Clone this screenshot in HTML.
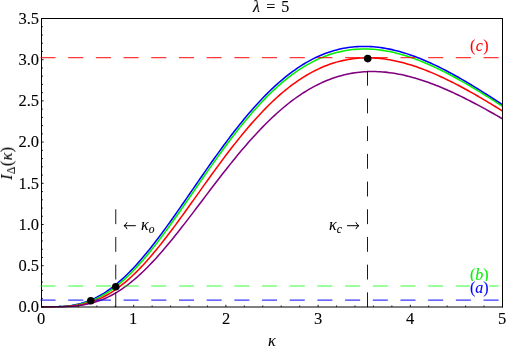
<!DOCTYPE html>
<html><head><meta charset="utf-8"><title>plot</title>
<style>
html,body{margin:0;padding:0;background:#fff;}
body{width:506px;height:346px;position:relative;overflow:hidden;font-family:"Liberation Serif",serif;color:#000;}
svg{position:absolute;left:0;top:0;}
.t{position:absolute;white-space:nowrap;font-size:16px;line-height:16px;will-change:transform;-webkit-text-stroke:0.1px currentColor;}
.yt{text-align:right;width:40px;font-size:16.5px;}
.xt{width:20px;text-align:center;font-size:16.5px;}
i{font-style:italic;}
.s{font-size:11.5px;position:relative;top:3px;}
</style></head><body>
<svg width="506" height="346" viewBox="0 0 506 346">
<defs><clipPath id="cp"><rect x="41.00" y="18.50" width="462.00" height="289.00"/></clipPath></defs>
<g clip-path="url(#cp)">
<path d="M41.50,306.90L43.80,306.90L46.11,306.90L48.41,306.89L50.72,306.87L53.02,306.84L55.33,306.79L57.64,306.71L59.94,306.60L62.25,306.45L64.55,306.27L66.86,306.04L69.16,305.76L71.47,305.43L73.77,305.03L76.08,304.58L78.38,304.06L80.69,303.47L82.99,302.81L85.30,302.07L87.60,301.26L89.91,300.37L92.21,299.40L94.52,298.34L96.82,297.21L99.12,295.98L101.43,294.68L103.74,293.29L106.04,291.81L108.35,290.25L110.65,288.60L112.95,286.87L115.26,285.06L117.57,283.16L119.87,281.18L122.17,279.13L124.48,276.99L126.79,274.78L129.09,272.49L131.40,270.13L133.70,267.70L136.00,265.20L138.31,262.64L140.62,260.01L142.92,257.32L145.23,254.57L147.53,251.76L149.84,248.90L152.14,245.99L154.44,243.03L156.75,240.02L159.06,236.98L161.36,233.89L163.67,230.76L165.97,227.60L168.28,224.41L170.58,221.20L172.89,217.95L175.19,214.68L177.50,211.40L179.80,208.09L182.11,204.78L184.41,201.45L186.72,198.11L189.02,194.76L191.33,191.42L193.63,188.07L195.94,184.72L198.24,181.38L200.55,178.04L202.85,174.72L205.16,171.40L207.46,168.10L209.77,164.81L212.07,161.55L214.38,158.30L216.68,155.08L218.99,151.88L221.29,148.71L223.60,145.56L225.90,142.45L228.20,139.37L230.51,136.32L232.82,133.31L235.12,130.34L237.43,127.40L239.73,124.50L242.04,121.65L244.34,118.84L246.65,116.07L248.95,113.35L251.25,110.67L253.56,108.04L255.87,105.46L258.17,102.93L260.48,100.46L262.78,98.03L265.09,95.65L267.39,93.33L269.70,91.06L272.00,88.84L274.31,86.68L276.61,84.58L278.92,82.53L281.22,80.54L283.52,78.60L285.83,76.72L288.13,74.90L290.44,73.13L292.75,71.43L295.05,69.78L297.36,68.18L299.66,66.65L301.97,65.18L304.27,63.76L306.57,62.40L308.88,61.10L311.19,59.85L313.49,58.66L315.80,57.53L318.10,56.46L320.41,55.45L322.71,54.49L325.02,53.58L327.32,52.74L329.62,51.95L331.93,51.21L334.24,50.53L336.54,49.90L338.85,49.33L341.15,48.81L343.46,48.34L345.76,47.92L348.06,47.56L350.37,47.25L352.68,46.98L354.98,46.77L357.29,46.61L359.59,46.49L361.90,46.43L364.20,46.41L366.51,46.44L368.81,46.51L371.12,46.63L373.42,46.79L375.73,47.00L378.03,47.25L380.34,47.55L382.64,47.88L384.94,48.26L387.25,48.68L389.56,49.13L391.86,49.63L394.17,50.16L396.47,50.73L398.78,51.34L401.08,51.98L403.39,52.66L405.69,53.37L408.00,54.12L410.30,54.90L412.61,55.71L414.91,56.55L417.22,57.43L419.52,58.33L421.82,59.26L424.13,60.22L426.44,61.21L428.74,62.22L431.05,63.26L433.35,64.33L435.66,65.42L437.96,66.54L440.27,67.68L442.57,68.84L444.88,70.02L447.18,71.22L449.49,72.45L451.79,73.69L454.10,74.95L456.40,76.24L458.71,77.53L461.01,78.85L463.32,80.18L465.62,81.53L467.93,82.90L470.23,84.28L472.54,85.67L474.84,87.07L477.15,88.49L479.45,89.92L481.76,91.37L484.06,92.82L486.37,94.28L488.67,95.76L490.98,97.24L493.28,98.73L495.59,100.23L497.89,101.74L500.20,103.26L502.50,104.78" fill="none" stroke="#0000ff" stroke-width="1.55" stroke-linejoin="round"/>
<path d="M41.50,306.90L43.80,306.90L46.11,306.90L48.41,306.89L50.72,306.88L53.02,306.86L55.33,306.82L57.64,306.77L59.94,306.69L62.25,306.58L64.55,306.43L66.86,306.25L69.16,306.02L71.47,305.74L73.77,305.41L76.08,305.03L78.38,304.58L80.69,304.07L82.99,303.49L85.30,302.84L87.60,302.11L89.91,301.31L92.21,300.43L94.52,299.47L96.82,298.43L99.12,297.30L101.43,296.09L103.74,294.79L106.04,293.41L108.35,291.95L110.65,290.39L112.95,288.75L115.26,287.03L117.57,285.22L119.87,283.33L122.17,281.36L124.48,279.31L126.79,277.17L129.09,274.96L131.40,272.68L133.70,270.32L136.00,267.88L138.31,265.38L140.62,262.81L142.92,260.18L145.23,257.48L147.53,254.73L149.84,251.91L152.14,249.05L154.44,246.13L156.75,243.16L159.06,240.15L161.36,237.09L163.67,234.00L165.97,230.86L168.28,227.69L170.58,224.50L172.89,221.27L175.19,218.02L177.50,214.74L179.80,211.45L182.11,208.14L184.41,204.81L186.72,201.48L189.02,198.14L191.33,194.79L193.63,191.44L195.94,188.09L198.24,184.74L200.55,181.40L202.85,178.06L205.16,174.74L207.46,171.43L209.77,168.13L212.07,164.85L214.38,161.59L216.68,158.36L218.99,155.14L221.29,151.96L223.60,148.80L225.90,145.67L228.20,142.57L230.51,139.51L232.82,136.48L235.12,133.49L237.43,130.54L239.73,127.62L242.04,124.75L244.34,121.92L246.65,119.14L248.95,116.40L251.25,113.71L253.56,111.06L255.87,108.47L258.17,105.92L260.48,103.43L262.78,100.98L265.09,98.59L267.39,96.26L269.70,93.97L272.00,91.74L274.31,89.57L276.61,87.45L278.92,85.39L281.22,83.38L283.52,81.43L285.83,79.54L288.13,77.71L290.44,75.93L292.75,74.22L295.05,72.56L297.36,70.95L299.66,69.41L301.97,67.93L304.27,66.50L306.57,65.13L308.88,63.82L311.19,62.57L313.49,61.37L315.80,60.24L318.10,59.16L320.41,58.13L322.71,57.17L325.02,56.26L327.32,55.40L329.62,54.60L331.93,53.86L334.24,53.17L336.54,52.54L338.85,51.96L341.15,51.43L343.46,50.96L345.76,50.53L348.06,50.16L350.37,49.84L352.68,49.58L354.98,49.36L357.29,49.19L359.59,49.07L361.90,48.99L364.20,48.97L366.51,48.99L368.81,49.05L371.12,49.16L373.42,49.32L375.73,49.52L378.03,49.76L380.34,50.05L382.64,50.37L384.94,50.74L387.25,51.15L389.56,51.59L391.86,52.08L394.17,52.60L396.47,53.16L398.78,53.76L401.08,54.39L403.39,55.05L405.69,55.75L408.00,56.49L410.30,57.25L412.61,58.05L414.91,58.88L417.22,59.74L419.52,60.63L421.82,61.54L424.13,62.49L426.44,63.46L428.74,64.46L431.05,65.48L433.35,66.53L435.66,67.60L437.96,68.70L440.27,69.82L442.57,70.96L444.88,72.12L447.18,73.31L449.49,74.51L451.79,75.74L454.10,76.98L456.40,78.24L458.71,79.52L461.01,80.81L463.32,82.12L465.62,83.45L467.93,84.79L470.23,86.14L472.54,87.51L474.84,88.89L477.15,90.29L479.45,91.69L481.76,93.11L484.06,94.54L486.37,95.98L488.67,97.43L490.98,98.88L493.28,100.35L495.59,101.82L497.89,103.30L500.20,104.79L502.50,106.28" fill="none" stroke="#00f000" stroke-width="1.55" stroke-linejoin="round"/>
<path d="M41.50,306.90L43.80,306.90L46.11,306.90L48.41,306.90L50.72,306.89L53.02,306.88L55.33,306.85L57.64,306.81L59.94,306.75L62.25,306.67L64.55,306.56L66.86,306.43L69.16,306.25L71.47,306.03L73.77,305.77L76.08,305.46L78.38,305.10L80.69,304.68L82.99,304.20L85.30,303.66L87.60,303.05L89.91,302.37L92.21,301.62L94.52,300.79L96.82,299.89L99.12,298.91L101.43,297.85L103.74,296.72L106.04,295.50L108.35,294.20L110.65,292.82L112.95,291.35L115.26,289.80L117.57,288.18L119.87,286.47L122.17,284.68L124.48,282.81L126.79,280.86L129.09,278.84L131.40,276.74L133.70,274.56L136.00,272.32L138.31,270.00L140.62,267.62L142.92,265.17L145.23,262.65L147.53,260.08L149.84,257.45L152.14,254.76L154.44,252.01L156.75,249.22L159.06,246.37L161.36,243.48L163.67,240.55L165.97,237.58L168.28,234.57L170.58,231.53L172.89,228.45L175.19,225.35L177.50,222.22L179.80,219.07L182.11,215.90L184.41,212.71L186.72,209.50L189.02,206.29L191.33,203.06L193.63,199.83L195.94,196.60L198.24,193.36L200.55,190.13L202.85,186.90L205.16,183.67L207.46,180.46L209.77,177.26L212.07,174.07L214.38,170.89L216.68,167.74L218.99,164.60L221.29,161.49L223.60,158.40L225.90,155.34L228.20,152.30L230.51,149.30L232.82,146.33L235.12,143.39L237.43,140.48L239.73,137.62L242.04,134.79L244.34,132.00L246.65,129.25L248.95,126.55L251.25,123.88L253.56,121.27L255.87,118.69L258.17,116.17L260.48,113.69L262.78,111.26L265.09,108.88L267.39,106.56L269.70,104.28L272.00,102.05L274.31,99.88L276.61,97.76L278.92,95.70L281.22,93.69L283.52,91.73L285.83,89.83L288.13,87.98L290.44,86.19L292.75,84.46L295.05,82.78L297.36,81.16L299.66,79.59L301.97,78.08L304.27,76.63L306.57,75.23L308.88,73.89L311.19,72.60L313.49,71.37L315.80,70.20L318.10,69.08L320.41,68.02L322.71,67.02L325.02,66.06L327.32,65.17L329.62,64.32L331.93,63.54L334.24,62.80L336.54,62.12L338.85,61.49L341.15,60.91L343.46,60.38L345.76,59.91L348.06,59.48L350.37,59.11L352.68,58.78L354.98,58.51L357.29,58.28L359.59,58.10L361.90,57.97L364.20,57.88L366.51,57.84L368.81,57.84L371.12,57.89L373.42,57.98L375.73,58.12L378.03,58.30L380.34,58.51L382.64,58.77L384.94,59.08L387.25,59.42L389.56,59.79L391.86,60.21L394.17,60.66L396.47,61.15L398.78,61.68L401.08,62.24L403.39,62.84L405.69,63.47L408.00,64.13L410.30,64.82L412.61,65.55L414.91,66.31L417.22,67.09L419.52,67.91L421.82,68.75L424.13,69.63L426.44,70.53L428.74,71.45L431.05,72.40L433.35,73.38L435.66,74.38L437.96,75.40L440.27,76.45L442.57,77.52L444.88,78.61L447.18,79.72L449.49,80.85L451.79,82.00L454.10,83.17L456.40,84.36L458.71,85.56L461.01,86.79L463.32,88.02L465.62,89.28L467.93,90.55L470.23,91.83L472.54,93.13L474.84,94.44L477.15,95.76L479.45,97.10L481.76,98.44L484.06,99.80L486.37,101.17L488.67,102.55L490.98,103.94L493.28,105.33L495.59,106.74L497.89,108.15L500.20,109.57L502.50,111.00" fill="none" stroke="#ff0000" stroke-width="1.55" stroke-linejoin="round"/>
<path d="M41.50,306.90L43.80,306.90L46.11,306.90L48.41,306.90L50.72,306.89L53.02,306.89L55.33,306.87L57.64,306.85L59.94,306.81L62.25,306.76L64.55,306.69L66.86,306.59L69.16,306.47L71.47,306.32L73.77,306.13L76.08,305.90L78.38,305.63L80.69,305.32L82.99,304.95L85.30,304.53L87.60,304.06L89.91,303.53L92.21,302.93L94.52,302.28L96.82,301.55L99.12,300.76L101.43,299.90L103.74,298.96L106.04,297.96L108.35,296.88L110.65,295.72L112.95,294.49L115.26,293.18L117.57,291.80L119.87,290.34L122.17,288.81L124.48,287.20L126.79,285.51L129.09,283.75L131.40,281.92L133.70,280.02L136.00,278.05L138.31,276.01L140.62,273.90L142.92,271.72L145.23,269.48L147.53,267.18L149.84,264.82L152.14,262.41L154.44,259.93L156.75,257.41L159.06,254.83L161.36,252.21L163.67,249.54L165.97,246.83L168.28,244.07L170.58,241.28L172.89,238.46L175.19,235.60L177.50,232.71L179.80,229.79L182.11,226.85L184.41,223.89L186.72,220.90L189.02,217.90L191.33,214.89L193.63,211.87L195.94,208.83L198.24,205.79L200.55,202.75L202.85,199.70L205.16,196.65L207.46,193.61L209.77,190.57L212.07,187.55L214.38,184.53L216.68,181.52L218.99,178.53L221.29,175.56L223.60,172.60L225.90,169.66L228.20,166.75L230.51,163.86L232.82,161.00L235.12,158.16L237.43,155.36L239.73,152.58L242.04,149.84L244.34,147.14L246.65,144.46L248.95,141.83L251.25,139.23L253.56,136.68L255.87,134.16L258.17,131.69L260.48,129.26L262.78,126.87L265.09,124.53L267.39,122.23L269.70,119.98L272.00,117.78L274.31,115.63L276.61,113.52L278.92,111.46L281.22,109.46L283.52,107.50L285.83,105.60L288.13,103.75L290.44,101.95L292.75,100.20L295.05,98.50L297.36,96.86L299.66,95.27L301.97,93.73L304.27,92.24L306.57,90.81L308.88,89.43L311.19,88.11L313.49,86.84L315.80,85.62L318.10,84.45L320.41,83.34L322.71,82.28L325.02,81.27L327.32,80.31L329.62,79.41L331.93,78.55L334.24,77.75L336.54,77.00L338.85,76.30L341.15,75.65L343.46,75.05L345.76,74.50L348.06,73.99L350.37,73.54L352.68,73.13L354.98,72.77L357.29,72.46L359.59,72.20L361.90,71.97L364.20,71.80L366.51,71.67L368.81,71.58L371.12,71.54L373.42,71.53L375.73,71.57L378.03,71.66L380.34,71.78L382.64,71.94L384.94,72.14L387.25,72.38L389.56,72.66L391.86,72.98L394.17,73.33L396.47,73.72L398.78,74.14L401.08,74.60L403.39,75.10L405.69,75.62L408.00,76.18L410.30,76.77L412.61,77.39L414.91,78.04L417.22,78.72L419.52,79.43L421.82,80.17L424.13,80.94L426.44,81.73L428.74,82.55L431.05,83.40L433.35,84.27L435.66,85.16L437.96,86.08L440.27,87.02L442.57,87.98L444.88,88.97L447.18,89.97L449.49,91.00L451.79,92.04L454.10,93.11L456.40,94.19L458.71,95.29L461.01,96.41L463.32,97.55L465.62,98.70L467.93,99.86L470.23,101.04L472.54,102.24L474.84,103.45L477.15,104.67L479.45,105.90L481.76,107.15L484.06,108.41L486.37,109.67L488.67,110.95L490.98,112.24L493.28,113.54L495.59,114.85L497.89,116.16L500.20,117.49L502.50,118.82" fill="none" stroke="#800080" stroke-width="1.55" stroke-linejoin="round"/>
</g>
<path d="M41.5,18.0V307.4 M502.5,18.0V307.4 M41.0,18.5H503.0" stroke="#000" stroke-width="1" fill="none"/>
<path d="M41.0,307H503.0" stroke="#000" stroke-width="1" fill="none"/>
<path d="M41.5,306.90h2.1 M41.5,298.66h1.4 M41.5,290.42h1.4 M41.5,282.18h1.4 M41.5,273.94h1.4 M41.5,265.70h2.1 M41.5,257.46h1.4 M41.5,249.22h1.4 M41.5,240.98h1.4 M41.5,232.74h1.4 M41.5,224.50h2.1 M41.5,216.26h1.4 M41.5,208.02h1.4 M41.5,199.78h1.4 M41.5,191.54h1.4 M41.5,183.30h2.1 M41.5,175.06h1.4 M41.5,166.82h1.4 M41.5,158.58h1.4 M41.5,150.34h1.4 M41.5,142.10h2.1 M41.5,133.86h1.4 M41.5,125.62h1.4 M41.5,117.38h1.4 M41.5,109.14h1.4 M41.5,100.90h2.1 M41.5,92.66h1.4 M41.5,84.42h1.4 M41.5,76.18h1.4 M41.5,67.94h1.4 M41.5,59.70h2.1 M41.5,51.46h1.4 M41.5,43.22h1.4 M41.5,34.98h1.4 M41.5,26.74h1.4 M41.5,18.50h2.1 M41.50,306.9v-2.1 M59.94,306.9v-1.4 M78.38,306.9v-1.4 M96.82,306.9v-1.4 M115.26,306.9v-1.4 M133.70,306.9v-2.1 M152.14,306.9v-1.4 M170.58,306.9v-1.4 M189.02,306.9v-1.4 M207.46,306.9v-1.4 M225.90,306.9v-2.1 M244.34,306.9v-1.4 M262.78,306.9v-1.4 M281.22,306.9v-1.4 M299.66,306.9v-1.4 M318.10,306.9v-2.1 M336.54,306.9v-1.4 M354.98,306.9v-1.4 M373.42,306.9v-1.4 M391.86,306.9v-1.4 M410.30,306.9v-2.1 M428.74,306.9v-1.4 M447.18,306.9v-1.4 M465.62,306.9v-1.4 M484.06,306.9v-1.4 M502.50,306.9v-2.1" stroke="#000" stroke-width="0.9" fill="none"/>
<line x1="41.1" y1="300.06" x2="502.5" y2="300.06" stroke="#0000ff" stroke-width="1.2" stroke-linecap="square" stroke-dasharray="13.845 13.845" opacity="0.78"/>
<line x1="41.1" y1="286.02" x2="502.5" y2="286.02" stroke="#00ff00" stroke-width="1.2" stroke-linecap="square" stroke-dasharray="13.845 13.845" opacity="0.78"/>
<line x1="41.1" y1="57.70" x2="502.5" y2="57.70" stroke="#ff0000" stroke-width="1.2" stroke-linecap="square" stroke-dasharray="13.845 13.845" opacity="0.78"/>
<line x1="115.75" y1="306.7" x2="115.75" y2="208.00" stroke="#000" stroke-width="0.9" stroke-linecap="square" stroke-dasharray="13.845 13.845"/>
<line x1="367.50" y1="306.7" x2="367.50" y2="58.00" stroke="#000" stroke-width="0.9" stroke-linecap="square" stroke-dasharray="13.845 13.845"/>
<circle cx="90.8" cy="300.8" r="3.8" fill="#000"/>
<circle cx="115.75" cy="286.8" r="3.8" fill="#000"/>
<circle cx="367.7" cy="58.6" r="3.8" fill="#000"/>
<path d="M124.10,225.70H135.80 M127.00,222.30Q126.30,224.80 123.90,225.70Q126.30,226.60 127.00,229.10" fill="none" stroke="#000" stroke-width="1"/>
<path d="M347.00,225.70H358.80 M355.90,222.30Q356.60,224.80 359.00,225.70Q356.60,226.60 355.90,229.10" fill="none" stroke="#000" stroke-width="1"/>
</svg>
<div class="t" style="left:253.4px;top:-1px;word-spacing:2.2px;"><i>λ</i> = 5</div>
<div class="t yt" style="left:-1px;top:299.2px;">0.0</div>
<div class="t yt" style="left:-1px;top:258.0px;">0.5</div>
<div class="t yt" style="left:-1px;top:216.8px;">1.0</div>
<div class="t yt" style="left:-1px;top:175.6px;">1.5</div>
<div class="t yt" style="left:-1px;top:134.4px;">2.0</div>
<div class="t yt" style="left:-1px;top:93.2px;">2.5</div>
<div class="t yt" style="left:-1px;top:52.0px;">3.0</div>
<div class="t yt" style="left:-1px;top:10.8px;">3.5</div>
<div class="t xt" style="left:31.1px;top:310.6px;">0</div>
<div class="t xt" style="left:123.3px;top:310.6px;">1</div>
<div class="t xt" style="left:215.5px;top:310.6px;">2</div>
<div class="t xt" style="left:307.7px;top:310.6px;">3</div>
<div class="t xt" style="left:399.9px;top:310.6px;">4</div>
<div class="t xt" style="left:492.1px;top:310.6px;">5</div>
<div class="t" style="left:268px;top:333px;"><i>κ</i></div>
<div class="t" style="left:0;top:0;transform-origin:0 0;transform:translate(-1px,179.8px) rotate(-90deg);letter-spacing:0.45px;"><i>I</i><span class="s">Δ</span>(<i>κ</i>)</div>
<div class="t" style="left:141.2px;top:217px;"><i>κ</i><i class="s">o</i></div>
<div class="t" style="left:328.8px;top:217px;"><i>κ</i><i class="s">c</i></div>
<div class="t" style="left:470px;top:37.5px;color:#ff0000;letter-spacing:0.4px;">(<i>c</i>)</div>
<div class="t" style="left:470px;top:266.7px;color:#00f000;">(<i>b</i>)</div>
<div class="t" style="left:470px;top:281px;color:#0000ff;background:#fff;line-height:14px;">(<i>a</i>)</div>
</body></html>
